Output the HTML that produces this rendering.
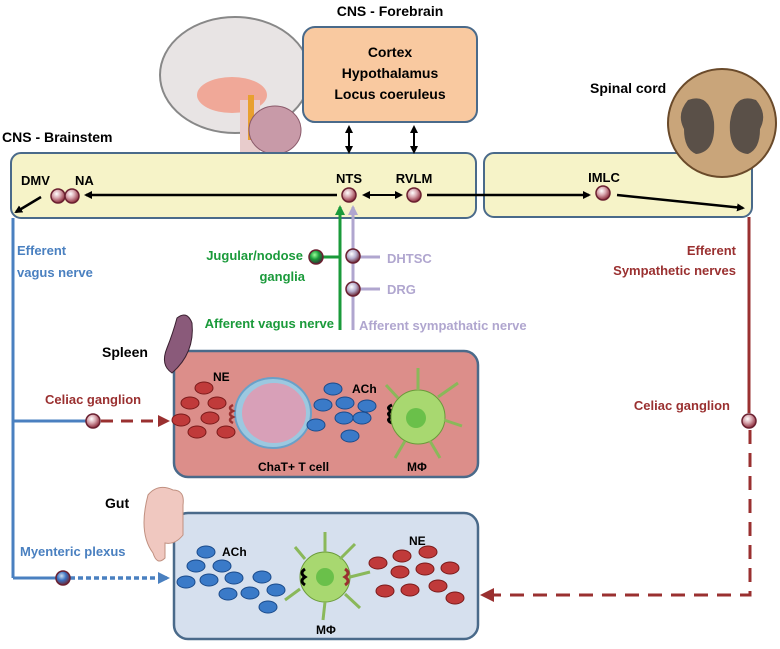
<!DOCTYPE html>
<html><head><style>
body{margin:0;background:#fff}
svg text{font-family:"Liberation Sans",sans-serif;font-weight:bold}
</style></head><body>
<svg width="780" height="644" viewBox="0 0 780 644" xmlns="http://www.w3.org/2000/svg">
<defs>
<radialGradient id="nd" cx="40%" cy="35%" r="65%"><stop offset="0" stop-color="#fff"/><stop offset=".45" stop-color="#d9a8b0"/><stop offset="1" stop-color="#8b2a3a"/></radialGradient>
<radialGradient id="nl" cx="40%" cy="35%" r="65%"><stop offset="0" stop-color="#fff"/><stop offset=".5" stop-color="#b8b0d0"/><stop offset="1" stop-color="#6a2a3a"/></radialGradient>
<radialGradient id="nb" cx="40%" cy="35%" r="65%"><stop offset="0" stop-color="#cde"/><stop offset=".5" stop-color="#3a70c0"/><stop offset="1" stop-color="#6a2a3a"/></radialGradient>
<radialGradient id="ng" cx="40%" cy="35%" r="65%"><stop offset="0" stop-color="#9f9"/><stop offset=".5" stop-color="#1a9a3a"/><stop offset="1" stop-color="#333"/></radialGradient>
<marker id="ab" markerWidth="8" markerHeight="8" refX="6" refY="4" orient="auto" markerUnits="userSpaceOnUse"><path d="M0,0L8,4L0,8z" fill="#000"/></marker>
<marker id="ag" markerWidth="10" markerHeight="10" refX="8" refY="5" orient="auto" markerUnits="userSpaceOnUse"><path d="M0,0L10,5L0,10z" fill="#1a9a3a"/></marker>
<marker id="al" markerWidth="10" markerHeight="10" refX="8" refY="5" orient="auto" markerUnits="userSpaceOnUse"><path d="M0,0L10,5L0,10z" fill="#b0a6cf"/></marker>
<marker id="ar" markerWidth="12" markerHeight="12" refX="9" refY="6" orient="auto" markerUnits="userSpaceOnUse"><path d="M0,0L12,6L0,12z" fill="#9a3030"/></marker>
<marker id="au" markerWidth="12" markerHeight="12" refX="9" refY="6" orient="auto" markerUnits="userSpaceOnUse"><path d="M0,0L12,6L0,12z" fill="#4a80c0"/></marker>
</defs>
<!-- brain -->
<ellipse cx="235" cy="75" rx="75" ry="58" fill="#e8e4e4" stroke="#888" stroke-width="2"/>
<ellipse cx="232" cy="95" rx="35" ry="18" fill="#f0a898"/>
<rect x="240" y="100" width="20" height="60" fill="#e8cccc"/>
<rect x="248" y="95" width="6" height="45" fill="#e8a030"/>
<ellipse cx="275" cy="130" rx="26" ry="24" fill="#c89aa8" stroke="#8a5a6a"/>
<!-- boxes -->
<rect x="303" y="27" width="174" height="95" rx="12" fill="#f9c9a0" stroke="#4a6a8a" stroke-width="2"/>
<rect x="11" y="153" width="465" height="65" rx="10" fill="#f6f3c8" stroke="#4a6a8a" stroke-width="2"/>
<rect x="484" y="153" width="268" height="64" rx="10" fill="#f6f3c8" stroke="#4a6a8a" stroke-width="2"/>
<rect x="174" y="351" width="304" height="126" rx="14" fill="#dc8e8a" stroke="#4a6a8a" stroke-width="2.5"/>
<rect x="174" y="513" width="304" height="126" rx="14" fill="#d6e0ee" stroke="#4a6a8a" stroke-width="2.5"/>
<!-- spinal cord -->
<circle cx="722" cy="123" r="54" fill="#c9a57a" stroke="#6a4a2a" stroke-width="2"/>
<path d="M688,100 q22,-8 26,22 q2,30 -18,32 q-12,-5 -12,-25 q-8,-15 4,-29z M756,100 q-22,-8 -26,22 q-2,30 18,32 q12,-5 12,-25 q8,-15 -4,-29z" fill="#5a5048"/>
<text x="390" y="16" font-size="14" text-anchor="middle">CNS - Forebrain</text>
<text x="390" y="57" font-size="14" text-anchor="middle">Cortex</text>
<text x="390" y="78" font-size="14" text-anchor="middle">Hypothalamus</text>
<text x="390" y="99" font-size="14" text-anchor="middle">Locus coeruleus</text>
<text x="2" y="142" font-size="14">CNS - Brainstem</text>
<text x="590" y="93" font-size="14">Spinal cord</text>
<!-- brainstem arrows -->
<line x1="349" y1="138" x2="349" y2="127" stroke="#000" stroke-width="2" marker-end="url(#ab)"/>
<line x1="349" y1="135" x2="349" y2="152" stroke="#000" stroke-width="2" marker-end="url(#ab)"/>
<line x1="414" y1="138" x2="414" y2="127" stroke="#000" stroke-width="2" marker-end="url(#ab)"/>
<line x1="414" y1="135" x2="414" y2="152" stroke="#000" stroke-width="2" marker-end="url(#ab)"/>
<line x1="337" y1="195" x2="86" y2="195" stroke="#000" stroke-width="2.5" marker-end="url(#ab)"/>
<line x1="380" y1="195" x2="401" y2="195" stroke="#000" stroke-width="2" marker-end="url(#ab)"/>
<line x1="380" y1="195" x2="364" y2="195" stroke="#000" stroke-width="2" marker-end="url(#ab)"/>
<line x1="427" y1="195" x2="589" y2="195" stroke="#000" stroke-width="2.5" marker-end="url(#ab)"/>
<line x1="617" y1="195" x2="743" y2="208" stroke="#000" stroke-width="2.5" marker-end="url(#ab)"/>
<line x1="41" y1="197" x2="16" y2="212" stroke="#000" stroke-width="2.5" marker-end="url(#ab)"/>
<text x="21" y="185" font-size="13">DMV</text><text x="75" y="185" font-size="13">NA</text>
<text x="349" y="183" font-size="13" text-anchor="middle">NTS</text>
<text x="414" y="183" font-size="13" text-anchor="middle">RVLM</text>
<text x="604" y="182" font-size="13" text-anchor="middle">IMLC</text>
<!-- blue efferent -->
<path d="M13,218 V578 M13,421 H86 M13,578 H56" stroke="#4a80c0" stroke-width="3" fill="none"/>
<text x="17" y="255" font-size="13" fill="#4a80c0">Efferent</text>
<text x="17" y="277" font-size="13" fill="#4a80c0">vagus nerve</text>
<line x1="101" y1="421" x2="167" y2="421" stroke="#9a3030" stroke-width="3" stroke-dasharray="12,8" marker-end="url(#ar)"/>
<text x="45" y="404" font-size="13" fill="#9a3030">Celiac ganglion</text>
<line x1="70" y1="578" x2="167" y2="578" stroke="#4a80c0" stroke-width="3.5" stroke-dasharray="5,3" marker-end="url(#au)"/>
<text x="20" y="556" font-size="13" fill="#4a80c0">Myenteric plexus</text>
<!-- red efferent -->
<line x1="749" y1="217" x2="749" y2="413" stroke="#9a3030" stroke-width="3"/>
<path d="M750,430 V595 H492" stroke="#9a3030" stroke-width="3" stroke-dasharray="14,9" fill="none"/>
<path d="M480,595 l14,-7 v14z" fill="#9a3030"/>
<text x="736" y="255" font-size="13" fill="#9a3030" text-anchor="end">Efferent</text>
<text x="736" y="275" font-size="13" fill="#9a3030" text-anchor="end">Sympathetic nerves</text>
<text x="730" y="410" font-size="13" fill="#9a3030" text-anchor="end">Celiac ganglion</text>
<!-- afferent -->
<line x1="340" y1="330" x2="340" y2="207" stroke="#1a9a3a" stroke-width="3" marker-end="url(#ag)"/>
<line x1="353" y1="330" x2="353" y2="207" stroke="#b0a6cf" stroke-width="3" marker-end="url(#al)"/>
<line x1="322" y1="257" x2="340" y2="257" stroke="#1a9a3a" stroke-width="3"/>
<line x1="358" y1="257" x2="380" y2="257" stroke="#b0a6cf" stroke-width="3"/>
<line x1="358" y1="289" x2="380" y2="289" stroke="#b0a6cf" stroke-width="3"/>
<text x="303" y="260" font-size="13" fill="#1a9a3a" text-anchor="end">Jugular/nodose</text>
<text x="305" y="281" font-size="13" fill="#1a9a3a" text-anchor="end">ganglia</text>
<text x="387" y="263" font-size="13" fill="#b0a6cf">DHTSC</text>
<text x="387" y="294" font-size="13" fill="#b0a6cf">DRG</text>
<text x="334" y="328" font-size="13" fill="#1a9a3a" text-anchor="end">Afferent vagus nerve</text>
<text x="359" y="330" font-size="13" fill="#b0a6cf">Afferent sympathatic nerve</text>
<!-- nodes -->
<g stroke="#6a2030" stroke-width="1.5">
<circle cx="58" cy="196" r="7" fill="url(#nd)"/><circle cx="72" cy="196" r="7" fill="url(#nd)"/>
<circle cx="349" cy="195" r="7" fill="url(#nd)"/><circle cx="414" cy="195" r="7" fill="url(#nd)"/>
<circle cx="603" cy="193" r="7" fill="url(#nd)"/>
<circle cx="316" cy="257" r="7" fill="url(#ng)"/>
<circle cx="353" cy="256" r="7" fill="url(#nl)"/><circle cx="353" cy="289" r="7" fill="url(#nl)"/>
<circle cx="93" cy="421" r="7" fill="url(#nd)"/>
<circle cx="63" cy="578" r="7" fill="url(#nb)"/>
<circle cx="749" cy="421" r="7" fill="url(#nd)"/>
</g>
<!-- spleen -->
<path d="M172,373 q-12,-8 -5,-25 q6,-15 10,-30 q10,-8 15,5 q3,30 -20,50z" fill="#8a5a7a" stroke="#3a2030"/>
<text x="102" y="357" font-size="14">Spleen</text>
<g fill="#c03a3a" stroke="#7a1a1a">
<ellipse cx="204" cy="388" rx="9" ry="6"/><ellipse cx="190" cy="403" rx="9" ry="6"/><ellipse cx="217" cy="403" rx="9" ry="6"/>
<ellipse cx="181" cy="420" rx="9" ry="6"/><ellipse cx="210" cy="418" rx="9" ry="6"/><ellipse cx="226" cy="432" rx="9" ry="6"/><ellipse cx="197" cy="432" rx="9" ry="6"/>
</g>
<text x="213" y="381" font-size="12">NE</text>
<ellipse cx="273" cy="413" rx="38" ry="35" fill="#9cc8e0" stroke="#6aa0c8" stroke-width="2"/>
<ellipse cx="274" cy="413" rx="32" ry="30" fill="#d8a0b8"/>
<path d="M233,405 q-6,3 0,6 q-6,3 0,6 q-6,3 0,6" stroke="#9a3030" stroke-width="2.5" fill="none"/>
<g fill="#3a7ac8" stroke="#1a4a8a">
<ellipse cx="333" cy="389" rx="9" ry="6"/><ellipse cx="323" cy="405" rx="9" ry="6"/><ellipse cx="345" cy="403" rx="9" ry="6"/><ellipse cx="367" cy="406" rx="9" ry="6"/>
<ellipse cx="344" cy="418" rx="9" ry="6"/><ellipse cx="362" cy="418" rx="9" ry="6"/><ellipse cx="316" cy="425" rx="9" ry="6"/><ellipse cx="350" cy="436" rx="9" ry="6"/>
</g>
<text x="352" y="393" font-size="12">ACh</text>
<path d="M392,405 q-7,3 0,6 q-7,3 0,6 q-7,3 0,6" stroke="#000" stroke-width="3" fill="none"/>
<circle cx="418" cy="417" r="27" fill="#a8d870" stroke="#6a9a3a"/><circle cx="416" cy="418" r="10" fill="#6ac04a"/>
<g stroke="#8ab85a" stroke-width="3"><line x1="418" y1="390" x2="418" y2="368"/><line x1="438" y1="397" x2="458" y2="383"/><line x1="444" y1="420" x2="462" y2="426"/><line x1="430" y1="441" x2="440" y2="458"/><line x1="405" y1="441" x2="395" y2="458"/><line x1="398" y1="398" x2="386" y2="385"/></g>
<text x="258" y="471" font-size="12">ChaT+ T cell</text>
<text x="407" y="471" font-size="12">MΦ</text>
<!-- gut -->
<path d="M148,495 q10,-12 25,-5 q12,0 10,15 v30 q-8,10 -18,8 v15 q-8,8 -12,-5 q-15,-20 -5,-58z" fill="#f0c8c0" stroke="#c09080"/>
<text x="105" y="508" font-size="14">Gut</text>
<g fill="#3a7ac8" stroke="#1a4a8a">
<ellipse cx="206" cy="552" rx="9" ry="6"/><ellipse cx="196" cy="566" rx="9" ry="6"/><ellipse cx="222" cy="566" rx="9" ry="6"/><ellipse cx="186" cy="582" rx="9" ry="6"/>
<ellipse cx="209" cy="580" rx="9" ry="6"/><ellipse cx="234" cy="578" rx="9" ry="6"/><ellipse cx="262" cy="577" rx="9" ry="6"/><ellipse cx="228" cy="594" rx="9" ry="6"/>
<ellipse cx="250" cy="593" rx="9" ry="6"/><ellipse cx="276" cy="590" rx="9" ry="6"/><ellipse cx="268" cy="607" rx="9" ry="6"/>
</g>
<text x="222" y="556" font-size="12">ACh</text>
<circle cx="325" cy="577" r="25" fill="#a8d870" stroke="#6a9a3a"/><circle cx="325" cy="577" r="9" fill="#6ac04a"/>
<g stroke="#8ab85a" stroke-width="3"><line x1="325" y1="552" x2="325" y2="532"/><line x1="340" y1="559" x2="355" y2="544"/><line x1="300" y1="589" x2="285" y2="600"/><line x1="325" y1="602" x2="323" y2="620"/><line x1="345" y1="594" x2="360" y2="608"/><line x1="305" y1="559" x2="295" y2="547"/><line x1="350" y1="577" x2="370" y2="572"/></g>
<path d="M305,569 q-6,4 0,8 q-6,4 0,8" stroke="#000" stroke-width="3" fill="none"/>
<path d="M345,569 q6,4 0,8 q6,4 0,8" stroke="#9a3030" stroke-width="3" fill="none"/>
<g fill="#c03a3a" stroke="#7a1a1a">
<ellipse cx="378" cy="563" rx="9" ry="6"/><ellipse cx="402" cy="556" rx="9" ry="6"/><ellipse cx="428" cy="552" rx="9" ry="6"/><ellipse cx="400" cy="572" rx="9" ry="6"/>
<ellipse cx="425" cy="569" rx="9" ry="6"/><ellipse cx="450" cy="568" rx="9" ry="6"/><ellipse cx="385" cy="591" rx="9" ry="6"/><ellipse cx="410" cy="590" rx="9" ry="6"/>
<ellipse cx="438" cy="586" rx="9" ry="6"/><ellipse cx="455" cy="598" rx="9" ry="6"/>
</g>
<text x="409" y="545" font-size="12">NE</text>
<text x="316" y="634" font-size="12">MΦ</text>
</svg>
</body></html>
